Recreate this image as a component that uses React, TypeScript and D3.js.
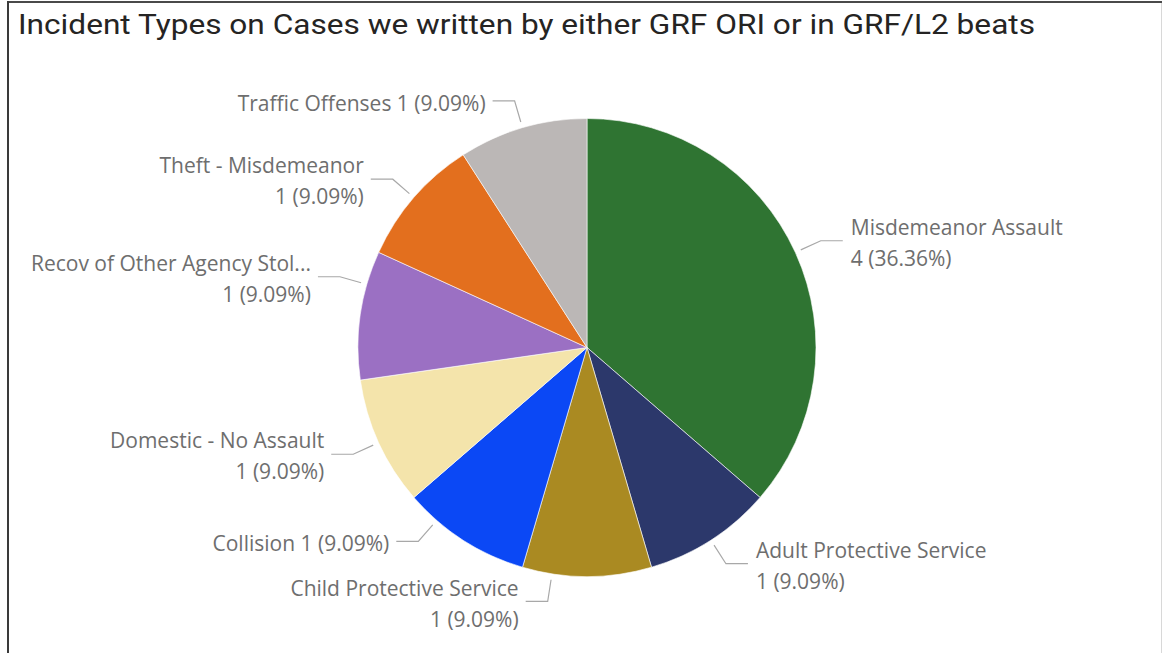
import React from "react";
import * as d3 from "d3";

const categories = [
  "Misdemeanor Assault",
  "Adult Protective Service",
  "Child Protective Service",
  "Collision",
  "Domestic - No Assault",
  "Recov of Other Agency Stol...",
  "Theft - Misdemeanor",
  "Traffic Offenses",
];
const counts = [4, 1, 1, 1, 1, 1, 1, 1];
const colors = [
  "#2f7432",
  "#2c386b",
  "#aa8a22",
  "#0b48f5",
  "#f4e4ab",
  "#9b70c3",
  "#e36f1e",
  "#bbb7b6",
];
// layout tweak: angular shift (degrees) of leader anchors to avoid label overlap
const labelShiftDeg = [0, 0, 8.8, 8.3, 0, 7.8, 0, 0];

const title = "Incident Types on Cases we written by either GRF ORI or in GRF/L2 beats";

const W = 1162;
const H = 653;
const cx = 587;
const cy = 347.5;
const R = 229;

export default function App() {
  const total = d3.sum(counts);
  const pie = d3.pie<number>().sort(null).value((d) => d)(counts);
  const arc = d3.arc<d3.PieArcDatum<number>>().innerRadius(0).outerRadius(R);
  const pct = d3.format(".2%");

  const labels = pie.map((p, i) => {
    const a = (p.startAngle + p.endAngle) / 2 + (labelShiftDeg[i] * Math.PI) / 180;
    const sx = Math.sin(a);
    const sy = -Math.cos(a);
    const start = [cx + (R + 6) * sx, cy + (R + 6) * sy];
    const elbow = [cx + (R + 28) * sx, cy + (R + 28) * sy];
    const left = elbow[0] < cx;
    const endX = elbow[0] + (left ? -22 : 22);
    const textX = endX + (left ? -7 : 8);
    const valText = `${counts[i]} (${pct(counts[i] / total)})`;
    const full = `${categories[i]} ${valText}`;
    const lines = full.length > 26 ? [categories[i], valText] : [full];
    return { start, elbow, endX, textX, left, lines, key: categories[i] };
  });

  return (
    <svg
      width={W}
      height={H}
      style={{ position: "absolute", left: 0, top: 0, background: "#fff" }}
    >
      <line x1={7} y1={2} x2={W} y2={2} stroke="#4a4a4a" strokeWidth={2} />
      <line x1={8} y1={1} x2={8} y2={H} stroke="#3a3a3a" strokeWidth={2} />
      <line x1={W - 0.5} y1={3} x2={W - 0.5} y2={H} stroke="#d8d8d8" strokeWidth={1} />
      <text
        x={18}
        y={34}
        fontFamily="Roboto, 'DejaVu Sans Condensed', sans-serif"
        fontSize={27}
        fill="#252423"
        textLength={1017}
        lengthAdjust="spacingAndGlyphs"
      >
        {title}
      </text>
      <g transform={`translate(${cx},${cy})`}>
        {pie.map((p, i) => (
          <path key={categories[i]} d={arc(p) || ""} fill={colors[i]} stroke="#ffffff" strokeWidth={0.6} />
        ))}
      </g>
      {labels.map((l) => (
        <g key={l.key}>
          <polyline
            points={`${l.start[0]},${l.start[1]} ${l.elbow[0]},${l.elbow[1]} ${l.endX},${l.elbow[1]}`}
            fill="none"
            stroke="#a8a8a8"
            strokeWidth={1.2}
          />
          {l.lines.map((t, j) => (
            <text
              key={j}
              x={l.textX}
              y={l.elbow[1] + 4 + (j - (l.lines.length - 1) / 2) * 31}
              textAnchor={l.left ? "end" : "start"}
              dominantBaseline="middle"
              fontFamily="'Open Sans', 'Noto Sans', sans-serif"
              fontSize={21}
              fill="#6e6e6e"
            >
              {t}
            </text>
          ))}
        </g>
      ))}
    </svg>
  );
}
